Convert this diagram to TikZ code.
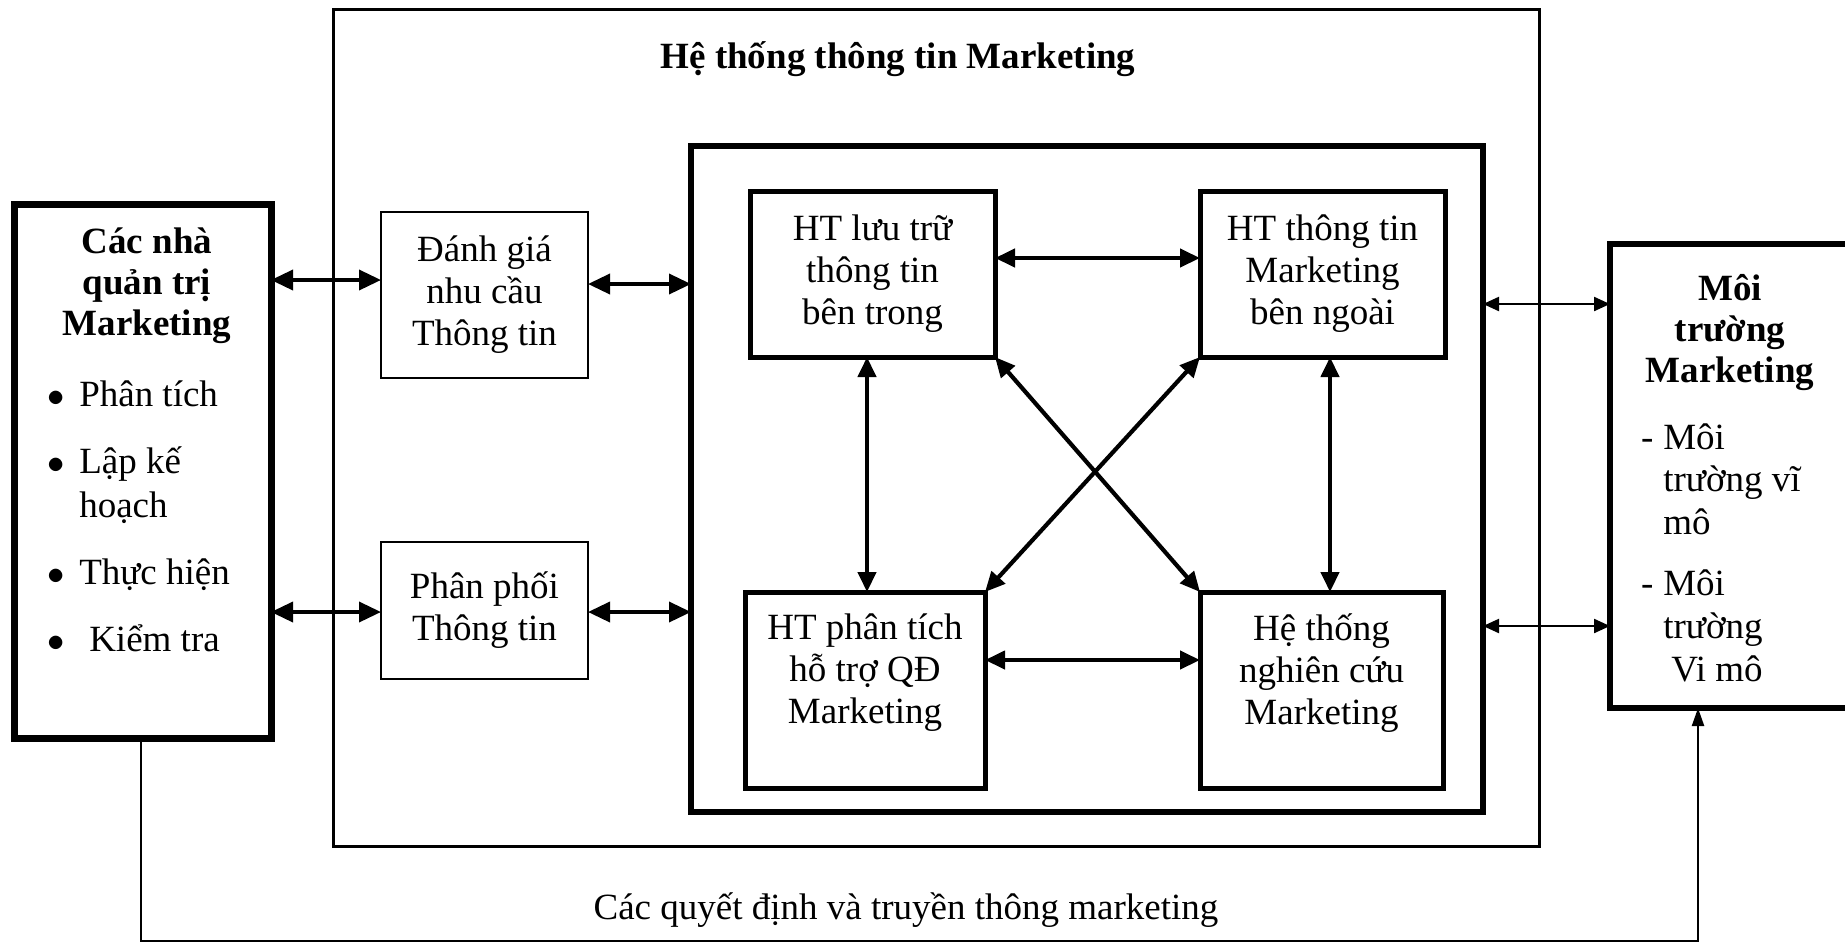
\documentclass[tikz,border=0pt]{standalone}
\usepackage{fontspec}
\setmainfont{Liberation Serif}
\usetikzlibrary{arrows.meta}
\begin{document}
\begin{tikzpicture}[x=0.5pt,y=-0.5pt,
  every node/.style={font=\fontsize{18.5}{21}\selectfont, inner sep=0pt, outer sep=0pt},
  bigbox/.style={draw, rectangle, line width=3.5pt},
  sysbox/.style={draw, rectangle, line width=1.5pt},
  innerbox/.style={draw, rectangle, line width=3pt},
  thinbox/.style={draw, rectangle, line width=1.4pt, align=center},
  hbox/.style={draw, rectangle, line width=2.5pt, align=center},
  txt/.style={align=center},
  larr/.style={line width=1.8pt, {Triangle[length=11pt,width=10pt]}-{Triangle[length=11pt,width=10pt]}},
  iarr/.style={line width=2.1pt, {Triangle[length=10pt,width=9pt]}-{Triangle[length=10pt,width=9pt]}},
  rarr/.style={line width=1.1pt, {Triangle[length=8pt,width=7pt]}-{Triangle[length=8pt,width=7pt]}},
  fbarr/.style={line width=1.1pt, -{Triangle[length=9pt,width=6pt]}}
]
\useasboundingbox (0,0) rectangle (1845,944);

% boxes
\node[sysbox, minimum width=603pt, minimum height=418.5pt] (SYS) at (936,427.5) {};
\node[innerbox, minimum width=396pt, minimum height=333pt] (IN) at (1087,479) {};
\node[bigbox, minimum width=128.5pt, minimum height=267pt] (L) at (142.5,471) {};
\node[bigbox, line width=3pt, minimum width=120pt, minimum height=232pt] (MT) at (1730,476) {};

\node[thinbox, minimum width=103.5pt, minimum height=83pt] (DG) at (484.5,295) {Đánh giá\\nhu cầu\\Thông tin};
\node[thinbox, minimum width=103.5pt, minimum height=68.5pt] (PP) at (484.5,610.5) {Phân phối\\Thông tin};

\node[hbox, minimum width=122.5pt, minimum height=83pt] (LT) at (872.5,274) {HT lưu trữ\\thông tin\\bên trong};
\node[hbox, minimum width=122.5pt, minimum height=83pt] (NG) at (1322.5,274) {HT thông tin\\Marketing\\bên ngoài};
\node[hbox, minimum width=120pt, minimum height=98pt] (PT) at (865,690) {};
\node[hbox, minimum width=121.5pt, minimum height=98pt] (NC) at (1321.5,690) {};
\node[txt] (PTt) at (865,673) {HT phân tích\\hỗ trợ QĐ\\Marketing};
\node[txt] (NCt) at (1321.5,673) {Hệ thống\\nghiên cứu\\Marketing};

% titles and texts
\node[txt, font=\fontsize{18.5}{21}\selectfont\bfseries] (TTL) at (898,59) {Hệ thống thông tin Marketing};

\node[txt, font=\fontsize{18.5}{20.5}\selectfont\bfseries] (Lt) at (147,286) {Các nhà\\quản trị\\Marketing};
\node[anchor=base west] (Llist) at (47,406) {\renewcommand\arraystretch{1.05}%
  \begin{tabular}[t]{@{}l@{\hspace{7.5pt}}l@{}}
  $\bullet$ & Phân tích\\[11.5pt]
  $\bullet$ & Lập kế\\
            & hoạch\\[11.5pt]
  $\bullet$ & Thực hiện\\[11.5pt]
  $\bullet$ & \hspace{5pt}Kiểm tra
  \end{tabular}};

\node[txt, font=\fontsize{18.5}{20.5}\selectfont\bfseries] (MTt) at (1730,333) {Môi\\trường\\Marketing};
\node[anchor=base west] (Rlist) at (1641,449) {\renewcommand\arraystretch{1.02}%
  \begin{tabular}[t]{@{}l@{\hspace{5pt}}l@{}}
  - & Môi\\
    & trường vĩ\\
    & mô\\[9pt]
  - & Môi\\
    & trường\\
    & \hspace{4pt}Vi mô
  \end{tabular}};

\node[txt] (LBL) at (906,910) {Các quyết định và truyền thông marketing};

% connectors
\draw[larr] (L.east |- 0,280) -- (DG.west |- 0,280);
\draw[larr] (L.east |- 0,612) -- (PP.west |- 0,612);
\draw[larr] (DG.east |- 0,284) -- (IN.west |- 0,284);
\draw[larr] (PP.east |- 0,612) -- (IN.west |- 0,612);
\draw[rarr] (IN.east |- 0,304) -- (MT.west |- 0,304);
\draw[rarr] (IN.east |- 0,626) -- (MT.west |- 0,626);

\draw[iarr] (LT.east |- 0,258) -- (NG.west |- 0,258);
\draw[iarr] (PT.east |- 0,660) -- (NC.west |- 0,660);
\draw[iarr] (LT.south -| 867,0) -- (PT.north -| 867,0);
\draw[iarr] (NG.south -| 1330,0) -- (NC.north -| 1330,0);
\draw[iarr] (LT.south east) -- (NC.north west);
\draw[iarr] (NG.south west) -- (PT.north east);

\coordinate (fb1) at (141,941);
\coordinate (fb2) at (1698,941);
\draw[fbarr] (L.south -| fb1) -- (fb1) -- (fb2) -- (MT.south -| fb2);
\end{tikzpicture}
\end{document}
